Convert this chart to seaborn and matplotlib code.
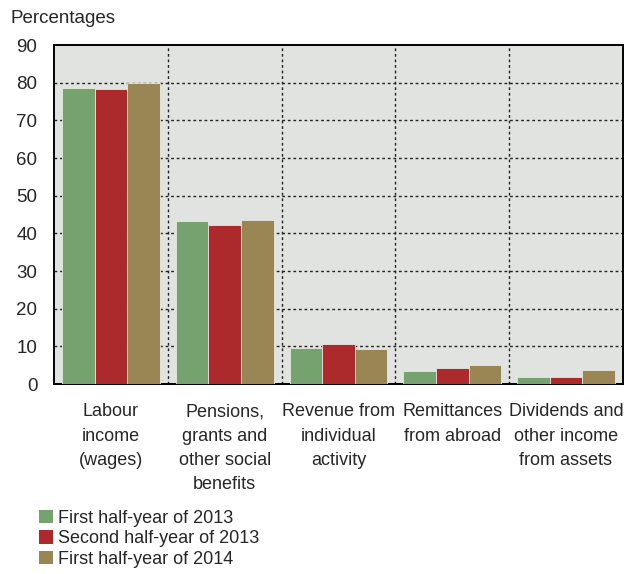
import matplotlib
matplotlib.use("Agg")
import matplotlib.pyplot as plt
import seaborn as sns
import pandas as pd
from matplotlib.patches import Patch

categories = [
    "Labour\nincome\n(wages)",
    "Pensions,\ngrants and\nother social\nbenefits",
    "Revenue from\nindividual\nactivity",
    "Remittances\nfrom abroad",
    "Dividends and\nother income\nfrom assets",
]
series_names = ["First half-year of 2013", "Second half-year of 2013", "First half-year of 2014"]
h1_2013 = [78.5, 43.4, 9.5, 3.5, 1.8]
h2_2013 = [78.2, 42.2, 10.5, 4.2, 1.8]
h1_2014 = [80.0, 43.5, 9.2, 5.0, 3.8]
yticks = [0, 10, 20, 30, 40, 50, 60, 70, 80, 90]

colors = ["#76a26f", "#ad2a2c", "#9a8654"]

df = pd.DataFrame({
    "category": categories * 3,
    "series": sum([[s] * len(categories) for s in series_names], []),
    "value": h1_2013 + h2_2013 + h1_2014,
})

sns.set_theme(style="white")
plt.rcParams["font.family"] = ["Liberation Sans", "DejaVu Sans"]

fig = plt.figure(figsize=(6.33, 5.74), dpi=100)
ax = fig.add_axes([0.0853, 0.331, 0.8987, 0.5906])
ax.set_facecolor("#e1e3e0")

sns.barplot(data=df, x="category", y="value", hue="series", order=categories,
            hue_order=series_names, palette=colors, saturation=1, width=0.86, ax=ax,
            edgecolor="#e8e8e0", linewidth=0.6, legend=False, zorder=3)

ax.set_ylim(0, 90)
ax.set_xlim(-0.5, len(categories) - 0.5)
ax.set_yticks(yticks)
ax.set_xlabel("")
ax.set_ylabel("")

# dotted grid: horizontal at ticks, vertical at category boundaries
for y in yticks[1:-1]:
    ax.axhline(y, color="#222222", lw=1.0, ls=(0, (2, 2)), zorder=1)
for i in range(len(categories) - 1):
    ax.axvline(i + 0.5, color="#222222", lw=1.0, ls=(0, (2, 2)), zorder=1)

for side in ["left", "bottom", "top", "right"]:
    ax.spines[side].set_visible(True)
    ax.spines[side].set_color("black")
    ax.spines[side].set_linewidth(1.4)

ax.tick_params(axis="y", labelsize=13.5, pad=12, length=0)
ax.tick_params(axis="x", labelsize=13, pad=14, length=0)
for lbl in ax.get_xticklabels():
    lbl.set_linespacing(1.55)
    lbl.set_ha("center")

fig.text(0.016, 0.968, "Percentages", fontsize=13.5, ha="left", va="center")

handles = [Patch(facecolor=c, edgecolor="none") for c in colors]
fig.legend(handles, series_names, loc="upper left", bbox_to_anchor=(0.062, 0.112),
           frameon=False, fontsize=13, handlelength=0.75, handleheight=0.75,
           handletextpad=0.3, labelspacing=0.2, borderaxespad=0, borderpad=0)

fig.savefig("out.png", dpi=100)
